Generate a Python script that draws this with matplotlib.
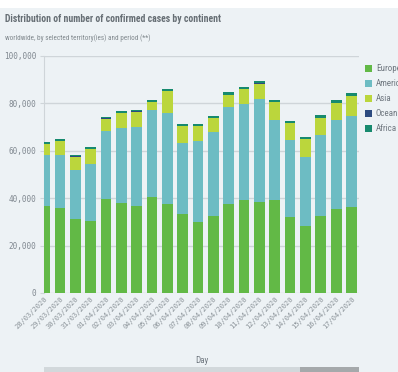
import matplotlib
matplotlib.use("Agg")
import matplotlib.pyplot as plt
import numpy as np
from matplotlib.patches import Rectangle
from matplotlib import font_manager

# data (confirmed cases per day)
days = ["28/03/2020", "29/03/2020", "30/03/2020", "31/03/2020", "01/04/2020",
        "02/04/2020", "03/04/2020", "04/04/2020", "05/04/2020", "06/04/2020",
        "07/04/2020", "08/04/2020", "09/04/2020", "10/04/2020", "11/04/2020",
        "12/04/2020", "13/04/2020", "14/04/2020", "15/04/2020", "16/04/2020",
        "17/04/2020"]
europe = [36760, 35900, 31270, 30280, 39720, 38030, 36900, 40560, 37460, 33380, 29860,
          32540, 37610, 39300, 38450, 39300, 32110, 28310, 32540, 35350, 36200]
america = [21270, 22410, 20700, 24230, 28730, 31550, 33100, 36480, 38450, 29860, 34370,
           35490, 40700, 40420, 43520, 33520, 32540, 29150, 34220, 37750, 38590]
asia = [4790, 5770, 5490, 6050, 4930, 6190, 6340, 3380, 9160, 7040, 6190,
        5910, 5210, 6340, 6340, 7880, 6900, 7610, 7180, 7180, 8170]
oceania = [250, 250, 300, 350, 300, 300, 250, 200, 200, 150, 150,
           100, 100, 100, 100, 50, 50, 50, 50, 50, 50]
africa = [590, 460, 550, 640, 400, 690, 730, 930, 930, 700, 700,
          750, 1030, 880, 890, 800, 790, 800, 1080, 940, 1220]

series = [("Europe", europe, "#62b946"),
          ("America", america, "#6dbcc3"),
          ("Asia", asia, "#bbd63c"),
          ("Oceania", oceania, "#2d4b80"),
          ("Africa", africa, "#178a6e")]

# pick a narrow font if one is around
names = set(f.name for f in font_manager.fontManager.ttflist)
narrow = "DejaVu Sans"
for cand in ["Roboto Condensed", "Liberation Sans Narrow", "Roboto"]:
    if cand in names:
        narrow = cand
        break

BG = "#edf2f5"
W, H = 398, 372
fig = plt.figure(figsize=(W / 100, H / 100), dpi=100, facecolor=BG)
# white strip at the very top
fig.patches.append(Rectangle((0, 1 - 8 / H), 1, 8 / H, transform=fig.transFigure,
                             facecolor="white", edgecolor="none", zorder=0))

ax = fig.add_axes([43.5 / W, (H - 293) / H, (359 - 43.5) / W, (293 - 56) / H])
ax.set_facecolor(BG)

x = np.arange(len(days))
bottom = np.zeros(len(days))
for name, vals, col in series:
    ax.bar(x, vals, width=0.7, bottom=bottom, color=col, zorder=3)
    bottom += np.array(vals)

ax.set_xlim(-0.07, 20.49)
ax.set_ylim(0, 100000)
ax.set_yticks(np.arange(0, 100001, 20000))
ax.set_yticklabels(["{:,}".format(v) for v in range(0, 100001, 20000)],
                   family="DejaVu Sans Mono", fontsize=5.5, color="#808890")
ax.grid(axis="y", color="#cfd5d9", linewidth=1, zorder=0)
ax.tick_params(axis="y", length=3, color="#cfd5d9", pad=2)
ax.tick_params(axis="x", length=0, pad=2)
ax.set_xticks(x)
ax.set_xticklabels(days, rotation=45, ha="right", rotation_mode="anchor",
                   family="DejaVu Sans Mono", fontsize=5, color="#8a9298")
for s in ["top", "right", "bottom"]:
    ax.spines[s].set_visible(False)
ax.spines["left"].set_color("#cfd5d9")

ax.set_xlabel("Day", fontsize=6.5, color="#707880", labelpad=0, family=narrow)
ax.xaxis.set_label_coords((202 - 43.5) / (359 - 43.5), -(356 - 293) / (293 - 56))

title_size = 7.0 if narrow != "Roboto" else 6.0
fig.text(5 / W, 1 - 19 / H, "Distribution of number of confirmed cases by continent",
         fontsize=title_size, fontweight="bold", color="#666e74", va="center",
         family=narrow)
fig.text(5 / W, 1 - 38 / H, "worldwide, by selected territory(ies) and period (**)",
         fontsize=5.1, color="#80888d", va="center", family=narrow)

# legend on the right, partly cut at the edge like the original
for i, (name, vals, col) in enumerate(series):
    yc = 68.5 + 15 * i
    fig.patches.append(Rectangle((365 / W, 1 - (yc + 3.5) / H), 7 / W, 7 / H,
                                 transform=fig.transFigure, facecolor=col,
                                 edgecolor="none"))
    fig.text(376 / W, 1 - yc / H, name, fontsize=6.5, color="#707880", va="center",
             family=narrow)

# scrollbar at the bottom
fig.patches.append(Rectangle((44 / W, 0), (300 - 44) / W, 5.5 / H,
                             transform=fig.transFigure, facecolor="#d2d8db",
                             edgecolor="none"))
fig.patches.append(Rectangle((300 / W, 0), (359 - 300) / W, 5.5 / H,
                             transform=fig.transFigure, facecolor="#a5a9ab",
                             edgecolor="none"))

fig.savefig("out.png", dpi=100, facecolor=BG)
